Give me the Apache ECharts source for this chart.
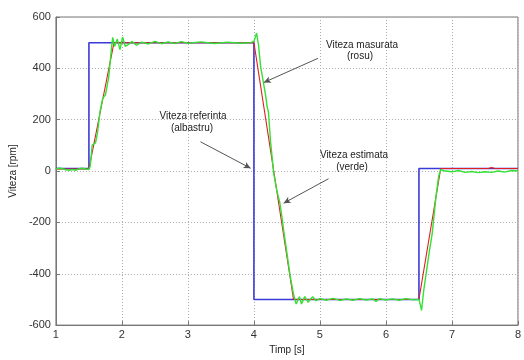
<!DOCTYPE html>
<html><head><meta charset="utf-8">
<script src="https://cdn.jsdelivr.net/npm/echarts@6/dist/echarts.min.js"></script>
<style>html,body{margin:0;padding:0;background:#fff}#c{width:524px;height:360px}</style>
</head><body><div id="c"></div>
<script>
var xTicks = [1,2,3,4,5,6,7,8];
var yTicks = [-600,-400,-200,0,200,400,600];
var refSpeed = [[1,10],[1.5,10],[1.5,500],[4,500],[4,-500],[6.5,-500],[6.5,10],[8,10]];
var measuredSpeed = [[1,8],[1.5,8],[1.52,12],[1.88,500],[4.0,500],[4.6,-500],[6.5,-500],[6.83,10],[7.55,10],[7.6,14],[7.65,10],[8,10]];
var estimatedSpeed = [[1,8],[1.05,12],[1.1,9],[1.15,5],[1.2,3],[1.25,6],[1.3,3],[1.35,9],[1.4,11],[1.45,8],[1.5,6],[1.52,20],[1.55,101],[1.6,110],[1.63,150],[1.67,234],[1.71,284],[1.75,296],[1.8,366],[1.84,473],[1.86,521],[1.89,486],[1.93,514],[1.97,473],[2.01,522],[2.05,486],[2.1,493],[2.15,505],[2.22,490],[2.3,502],[2.4,495],[2.5,505],[2.6,496],[2.7,503],[2.8,497],[2.9,504],[3.0,498],[3.2,503],[3.4,497],[3.6,502],[3.8,498],[3.95,500],[4.0,505],[4.04,537],[4.07,490],[4.1,410],[4.14,350],[4.18,290],[4.2,250],[4.22,230],[4.25,120],[4.3,-10],[4.35,-80],[4.39,-120],[4.42,-170],[4.45,-230],[4.5,-320],[4.55,-410],[4.6,-480],[4.62,-500],[4.64,-518],[4.69,-489],[4.72,-518],[4.77,-489],[4.82,-511],[4.89,-489],[4.94,-505],[5.0,-497],[5.1,-503],[5.2,-496],[5.3,-504],[5.4,-498],[5.5,-503],[5.6,-497],[5.7,-502],[5.8,-498],[5.85,-508],[5.9,-497],[6.0,-502],[6.1,-498],[6.2,-503],[6.3,-497],[6.4,-501],[6.5,-500],[6.52,-520],[6.54,-543],[6.57,-470],[6.61,-398],[6.66,-309],[6.7,-246],[6.72,-240],[6.76,-95],[6.8,-19],[6.83,5],[6.9,0],[7.0,-3],[7.1,2],[7.2,-5],[7.3,-2],[7.4,-6],[7.5,-3],[7.6,-5],[7.7,0],[7.8,-4],[7.9,2],[8,0]];
var arrows = [
  [[4.97,439],[4.15,345]],
  [[3.19,114],[3.95,11]],
  [[5.13,-30],[4.45,-125]]
];
var notes = [
  {text:'Viteza masurata', x:362, y:45},
  {text:'(rosu)', x:360, y:56},
  {text:'Viteza referinta', x:193, y:116},
  {text:'(albastru)', x:192, y:128},
  {text:'Viteza estimata', x:354, y:155},
  {text:'(verde)', x:352, y:167}
];
var chart = echarts.init(document.getElementById('c'));
var fnt = 'Liberation Sans, Arial, sans-serif';
chart.setOption({
  animation:false,
  grid:{left:49,right:2,top:17,bottom:26,show:true,borderColor:'#777',borderWidth:1,backgroundColor:'#fff'},
  xAxis:{type:'value',min:1,max:8,interval:1,name:'Timp [s]',nameLocation:'middle',nameGap:17,
    nameTextStyle:{fontSize:10,color:'#222',fontFamily:fnt},
    axisLine:{onZero:false,lineStyle:{color:'#777'}},axisTick:{inside:true,length:4,lineStyle:{color:'#777'}},
    axisLabel:{fontSize:11,color:'#333',margin:4,fontFamily:fnt},
    splitLine:{show:true,lineStyle:{color:'#aaa',type:[1,2]}}},
  yAxis:{type:'value',min:-600,max:600,interval:200,name:'Viteza [rpm]',nameLocation:'middle',nameGap:37,
    nameTextStyle:{fontSize:10,color:'#222',fontFamily:fnt},
    axisLine:{lineStyle:{color:'#777'}},axisTick:{inside:true,length:4,lineStyle:{color:'#777'}},
    axisLabel:{fontSize:11,color:'#333',margin:5,fontFamily:fnt},
    splitLine:{show:true,lineStyle:{color:'#aaa',type:[1,2]}}},
  series:[
    {type:'line',data:refSpeed,showSymbol:false,lineStyle:{color:'#3a3ad8',width:1.6},z:2,
     markLine:{silent:true,symbol:['none','arrow'],symbolSize:[5,7],label:{show:false},
       lineStyle:{color:'#555',width:1,type:'solid'},
       data:arrows.map(function(a){return [{coord:a[0]},{coord:a[1]}];})}},
    {type:'line',data:measuredSpeed,showSymbol:false,lineStyle:{color:'#e02020',width:1.1},z:3},
    {type:'line',data:estimatedSpeed,showSymbol:false,lineStyle:{color:'#33e033',width:1.4},z:4}
  ],
  graphic:notes.map(function(n){return {type:'text',x:n.x,y:n.y,z:10,
    style:{text:n.text,fill:'#222',font:'10px '+fnt,align:'center',verticalAlign:'middle'}};})
});
</script></body></html>
